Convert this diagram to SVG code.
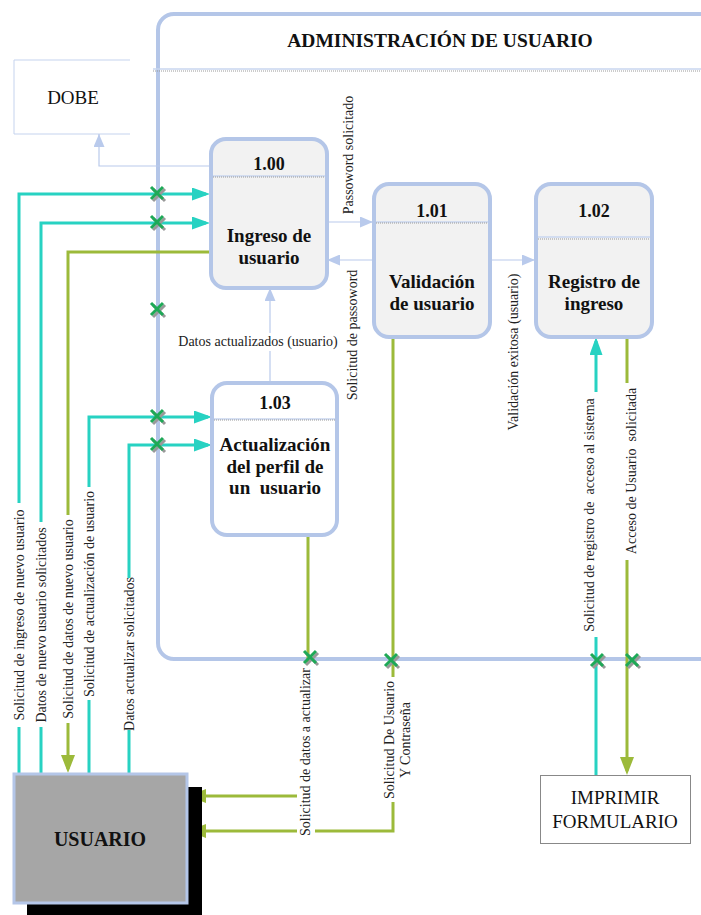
<svg xmlns="http://www.w3.org/2000/svg" width="701" height="915" viewBox="0 0 701 915">
<style>
text{font-family:'Liberation Serif','Times New Roman','DejaVu Serif',serif}
.bnd{fill:none;stroke:#b4c6e8;stroke-width:4}
.proc{fill:#f2f2f2;stroke:#b4c6e8;stroke-width:4}
.num{font-weight:bold;font-size:18px;text-anchor:middle;fill:#111}
.nt{font-weight:bold;font-size:19px;text-anchor:middle;fill:#111}
.lbl{font-size:14px;text-anchor:middle;fill:#222}
.ext{font-size:19px;text-anchor:middle;fill:#111}
.sepb{stroke:#c9d6ef;stroke-width:1.5}
.sepg{stroke:#999;stroke-width:1;stroke-dasharray:1 1}
.cy{fill:none;stroke:#27d2c2;stroke-width:3}
.gr{fill:none;stroke:#9cba3a;stroke-width:3}
.lb{fill:none;stroke:#b9caec;stroke-width:1.2}
.x{stroke:#1ea957;stroke-width:3}
.xs{stroke:#999;stroke-width:3}
</style>
<defs>
<marker id="ac" markerUnits="userSpaceOnUse" markerWidth="18" markerHeight="13" viewBox="0 0 18 13" refX="14" refY="6.5" orient="auto"><path d="M0,0 L18,6.5 L0,13 z" fill="#27d2c2"/></marker>
<marker id="ag" markerUnits="userSpaceOnUse" markerWidth="18" markerHeight="14" viewBox="0 0 18 14" refX="14" refY="7" orient="auto"><path d="M0,0 L18,7 L0,14 z" fill="#9cba3a"/></marker>
<marker id="al" markerUnits="userSpaceOnUse" markerWidth="13" markerHeight="11" viewBox="0 0 13 11" refX="13" refY="5.5" orient="auto"><path d="M0,0 L13,5.5 L0,11 z" fill="#b9caec"/></marker>
<g id="xm"><path class="xs" d="M-4,-4 L8,8 M8,-4 L-4,8"/><path class="x" d="M-6,-6 L6,6 M6,-6 L-6,6"/></g>
</defs>
<rect width="701" height="915" fill="#fff"/>

<g id="admin">
<rect class="bnd" x="158" y="14" width="600" height="645" rx="16"/>
<line x1="153" y1="69" x2="701" y2="69" class="sepb"/>
<line x1="153" y1="71" x2="701" y2="71" class="sepg"/>
<text x="440" y="47" class="nt" style="font-size:19.5px">ADMINISTRACIÓN DE USUARIO</text>
</g>

<g id="dobe">
<path d="M130,60 H14 V134 H130" fill="none" stroke="#c5d3ee" stroke-width="1"/>
<text x="73" y="104" class="ext">DOBE</text>
</g>

<g id="connectors">
<path class="lb" d="M210,166 H99 V134" marker-end="url(#al)"/>
<path class="cy" d="M19,773 V727 M19,503 V194 H206" marker-end="url(#ac)"/>
<path class="cy" d="M41,773 V727 M41,522 V223 H206" marker-end="url(#ac)"/>
<path class="gr" d="M210,252 H68 V515 M68,723 V769" marker-end="url(#ag)"/>
<path class="cy" d="M89,773 V700 M89,487 V417 H208" marker-end="url(#ac)"/>
<path class="cy" d="M129,773 V730 M129,578 V445 H208" marker-end="url(#ac)"/>
<path class="lb" d="M327,222 H373" marker-end="url(#al)"/>
<path class="lb" d="M373,260 H327" marker-end="url(#al)"/>
<path class="lb" d="M490,260 H535" marker-end="url(#al)"/>
<path class="lb" d="M270,382 V351 M270,333 V288" marker-end="url(#al)"/>
<path class="gr" d="M308,535 V663 M297,796 H192" marker-end="url(#ag)"/>
<path class="gr" d="M393,337 V677 M393,802 V831 H315 M297,831 H192" marker-end="url(#ag)"/>
<path class="cy" d="M596,775 V637 M596,392 V341" marker-end="url(#ac)"/>
<path class="gr" d="M627,337 V383 M627,560 V771" marker-end="url(#ag)"/>

<text class="lbl" transform="translate(19,615) rotate(-90)" x="0" y="5">Solicitud de ingreso de nuevo usuario</text>
<text class="lbl" transform="translate(41,625) rotate(-90)" x="0" y="5">Datos de nuevo usuario solicitados</text>
<text class="lbl" transform="translate(68,619) rotate(-90)" x="0" y="5">Solicitud de datos de nuevo usuario</text>
<text class="lbl" transform="translate(89,594) rotate(-90)" x="0" y="5">Solicitud de actualización de usuario</text>
<text class="lbl" transform="translate(129,654) rotate(-90)" x="0" y="5">Datos actualizar solicitados</text>
<text class="lbl" transform="translate(348,155) rotate(-90)" x="0" y="5">Passoword solicitado</text>
<text class="lbl" transform="translate(352,335) rotate(-90)" x="0" y="5">Solicitud de passoword</text>
<text class="lbl" transform="translate(513,352) rotate(-90)" x="0" y="5">Validación exitosa (usuario)</text>
<text class="lbl" x="258" y="346">Datos actualizados (usuario)</text>
<text class="lbl" transform="translate(305,752) rotate(-90)" x="0" y="5">Solicitud de datos a actualizar</text>
<text class="lbl" transform="translate(397,740) rotate(-90)"><tspan x="0" y="-3">Solicitud De Usuario</tspan><tspan x="0" y="13">Y Contraseña</tspan></text>
<text class="lbl" transform="translate(589,515) rotate(-90)" x="0" y="5" xml:space="preserve">Solicitud de registro de  acceso al sistema</text>
<text class="lbl" transform="translate(631,471) rotate(-90)" x="0" y="5" xml:space="preserve">Acceso de Usuario  solicitada</text>

<use href="#xm" x="157" y="193"/>
<use href="#xm" x="157" y="222"/>
<use href="#xm" x="157" y="309"/>
<use href="#xm" x="157" y="416"/>
<use href="#xm" x="157" y="444"/>
<use href="#xm" x="310" y="657"/>
<use href="#xm" x="391" y="660"/>
<use href="#xm" x="597" y="660"/>
<use href="#xm" x="632" y="660"/>
</g>

<g id="p100">
<rect class="proc" x="211" y="139" width="116" height="149" rx="15"/>
<line x1="213" y1="176" x2="325" y2="176" class="sepb"/>
<line x1="213" y1="177" x2="325" y2="177" class="sepg"/>
<text x="269" y="170" class="num">1.00</text>
<text x="269" y="242" class="nt">Ingreso de</text>
<text x="269" y="264" class="nt">usuario</text>
</g>

<g id="p101">
<rect class="proc" x="374" y="184" width="116" height="153" rx="15"/>
<line x1="376" y1="222" x2="488" y2="222" class="sepb"/>
<line x1="376" y1="223" x2="488" y2="223" class="sepg"/>
<text x="432" y="217" class="num">1.01</text>
<text x="432" y="288" class="nt">Validación</text>
<text x="432" y="310" class="nt">de usuario</text>
</g>

<g id="p102">
<rect class="proc" x="536" y="184" width="116" height="153" rx="15"/>
<line x1="538" y1="237" x2="650" y2="237" class="sepb"/>
<line x1="538" y1="239" x2="650" y2="239" class="sepg"/>
<text x="594" y="217" class="num">1.02</text>
<text x="594" y="288" class="nt">Registro de</text>
<text x="594" y="310" class="nt">ingreso</text>
</g>

<g id="p103">
<rect class="proc" x="212" y="383" width="125" height="152" rx="15" style="fill:#fff"/>
<line x1="214" y1="419" x2="335" y2="419" class="sepb"/>
<line x1="214" y1="420" x2="335" y2="420" class="sepg"/>
<text x="275" y="409" class="num">1.03</text>
<text x="275" y="451" class="nt">Actualización</text>
<text x="275" y="473" class="nt">del perfil de</text>
<text x="275" y="494" class="nt" xml:space="preserve">un  usuario</text>
</g>

<g id="usuario">
<rect x="27" y="787" width="175" height="130" fill="#000"/>
<rect x="14" y="774" width="173" height="129" fill="#a6a6a6" stroke="#b4c6e8" stroke-width="3"/>
<text x="100" y="846" class="nt" style="font-size:20px">USUARIO</text>
</g>

<g id="imprimir">
<rect x="540.5" y="775.5" width="150" height="68" fill="#fff" stroke="#888" stroke-width="1"/>
<text x="615" y="804" class="ext">IMPRIMIR</text>
<text x="615" y="828" class="ext">FORMULARIO</text>
</g>
</svg>
